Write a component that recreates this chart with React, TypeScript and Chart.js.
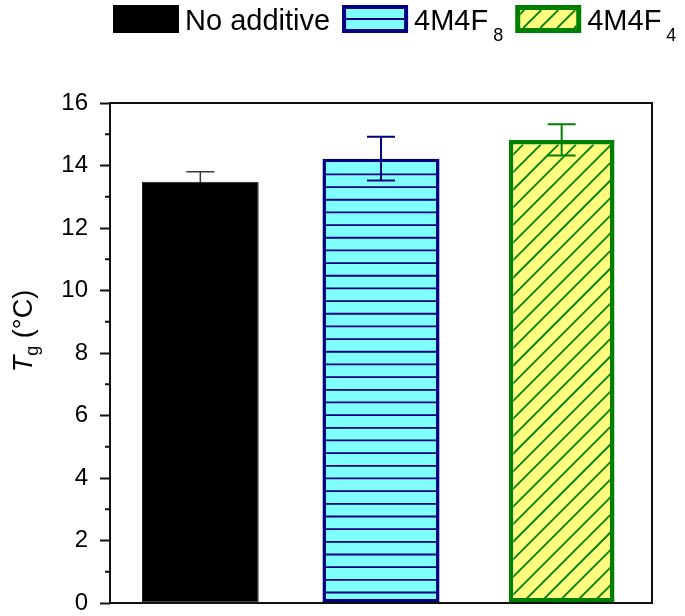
import React, { useEffect, useRef } from "react";
import { Chart, registerables } from "chart.js";

Chart.register(...registerables);

// ---- data ----
const categories = ["No additive", "4M4F8", "4M4F4"];
const legendMain = ["No additive", "4M4F", "4M4F"];
const legendSub = ["", "8", "4"];
const tgValues = [13.48, 14.22, 14.82];
const tgErrors = [0.32, 0.7, 0.5];
const yMin = 0;
const yMax = 16;
const yMajorStep = 2;
const yMinorTicks = [1, 3, 5, 7, 9, 11, 13, 15];

// ---- styles ----
const fillColors = ["#000000", "#80FFFF", "#FFFF80"];
const borderColors = ["#222222", "#000080", "#008000"];
const errorColors = ["#3a3a3a", "#000080", "#008000"];
const errorBehind = [true, false, false];
const borderWidths = [1, 3.5, 4.5];
const barPercents = [0.646, 0.648, 0.585];
const hatchTypes = ["none", "horizontal", "diagonal"];
const FONT = "'Liberation Sans', Arial, sans-serif";

function drawHatch(ctx: CanvasRenderingContext2D, type: string, left: number, top: number, right: number, bottom: number, color: string, hSpacing: number, dSpacing: number, offset: number) {
  ctx.strokeStyle = color;
  ctx.lineWidth = 1.8;
  if (type === "horizontal") {
    for (let yy = bottom - offset; yy > top; yy -= hSpacing) {
      ctx.beginPath();
      ctx.moveTo(left, yy);
      ctx.lineTo(right, yy);
      ctx.stroke();
    }
  } else if (type === "diagonal") {
    const h = bottom - top;
    for (let c = left - h + offset; c < right + 1; c += dSpacing) {
      ctx.beginPath();
      ctx.moveTo(c, bottom);
      ctx.lineTo(c + h, top);
      ctx.stroke();
    }
  }
}

function drawErrorBar(chart: any, i: number) {
  const ctx = chart.ctx as CanvasRenderingContext2D;
  const yScale = chart.scales.y;
  const el = chart.getDatasetMeta(i).data[i];
  if (!el) return;
  const px = el.getProps(["x"], true).x;
  const v = tgValues[i];
  const e = tgErrors[i];
  const yHi = yScale.getPixelForValue(v + e);
  const yLo = yScale.getPixelForValue(v - e);
  ctx.save();
  ctx.strokeStyle = errorColors[i];
  ctx.lineWidth = i === 0 ? 1.5 : 2;
  ctx.beginPath();
  ctx.moveTo(px, yHi);
  ctx.lineTo(px, yLo);
  ctx.moveTo(px - 14, yHi);
  ctx.lineTo(px + 14, yHi);
  ctx.moveTo(px - 14, yLo);
  ctx.lineTo(px + 14, yLo);
  ctx.stroke();
  ctx.restore();
}

const barsDecorPlugin = {
  id: "barsDecor",
  beforeDatasetsDraw(chart: any) {
    chart.data.datasets.forEach((_ds: any, i: number) => {
      if (errorBehind[i]) drawErrorBar(chart, i);
    });
  },
  afterDatasetsDraw(chart: any) {
    const ctx = chart.ctx as CanvasRenderingContext2D;
    const yScale = chart.scales.y;
    const area = chart.chartArea;
    chart.data.datasets.forEach((_ds: any, i: number) => {
      const meta = chart.getDatasetMeta(i);
      const el = meta.data[i];
      if (!el) return;
      const p = el.getProps(["x", "y", "base", "width"], true);
      const bw = borderWidths[i];
      const left = p.x - p.width / 2 + bw;
      const right = p.x + p.width / 2 - bw;
      const top = p.y + bw;
      const bottom = p.base;
      ctx.save();
      ctx.beginPath();
      ctx.rect(left, top, right - left, bottom - top);
      ctx.clip();
      drawHatch(ctx, hatchTypes[i], left, top, right, bottom, borderColors[i], 12.67, 17.6, 10);
      ctx.restore();
      if (!errorBehind[i]) drawErrorBar(chart, i);
    });

    // frame
    ctx.save();
    ctx.strokeStyle = "#111";
    ctx.lineWidth = 2;
    ctx.strokeRect(area.left, area.top, area.right - area.left, area.bottom - area.top);
    // minor ticks
    ctx.beginPath();
    yMinorTicks.forEach((v) => {
      const yy = yScale.getPixelForValue(v);
      ctx.moveTo(area.left - 5, yy);
      ctx.lineTo(area.left, yy);
    });
    ctx.stroke();
    ctx.restore();
  },
  afterDraw(chart: any) {
    const ctx = chart.ctx as CanvasRenderingContext2D;
    // ---- legend ----
    ctx.save();
    let x = 113;
    const boxY = 5;
    const boxW = 66;
    const boxH = 28;
    for (let i = 0; i < legendMain.length; i++) {
      const bw = i === 0 ? 0 : Math.round(borderWidths[i]);
      ctx.fillStyle = fillColors[i];
      ctx.fillRect(x, boxY, boxW, boxH);
      ctx.save();
      ctx.beginPath();
      ctx.rect(x + bw, boxY + bw, boxW - 2 * bw, boxH - 2 * bw);
      ctx.clip();
      if (hatchTypes[i] === "horizontal") {
        ctx.strokeStyle = borderColors[i];
        ctx.lineWidth = 1.8;
        ctx.beginPath();
        ctx.moveTo(x, boxY + boxH / 2);
        ctx.lineTo(x + boxW, boxY + boxH / 2);
        ctx.stroke();
      } else if (hatchTypes[i] === "diagonal") {
        drawHatch(ctx, "diagonal", x + bw, boxY + bw, x + boxW - bw, boxY + boxH - bw, borderColors[i], 12.67, 17, 4);
      }
      ctx.restore();
      if (i > 0) {
        ctx.strokeStyle = borderColors[i];
        ctx.lineWidth = bw;
        ctx.strokeRect(x + bw / 2, boxY + bw / 2, boxW - bw, boxH - bw);
      }
      let tx = x + boxW + 6;
      ctx.fillStyle = "#000";
      ctx.textBaseline = "alphabetic";
      ctx.textAlign = "left";
      ctx.font = `29px ${FONT}`;
      ctx.fillText(legendMain[i], tx, 30);
      tx += ctx.measureText(legendMain[i]).width;
      if (legendSub[i]) {
        tx += 5;
        ctx.font = `18px ${FONT}`;
        ctx.fillText(legendSub[i], tx, 41);
        tx += ctx.measureText(legendSub[i]).width;
      }
      x = tx + 12;
    }
    ctx.restore();

    // ---- y axis title ----
    ctx.save();
    const cy = 331;
    const bx = 32;
    const big = 27;
    const small = 18;
    ctx.font = `italic ${big}px ${FONT}`;
    const wT = ctx.measureText("T").width;
    ctx.font = `${small}px ${FONT}`;
    const wg = ctx.measureText("g").width;
    ctx.font = `${big}px ${FONT}`;
    const wRest = ctx.measureText(" (°C)").width;
    const total = wT + wg + wRest;
    ctx.translate(bx, cy);
    ctx.rotate(-Math.PI / 2);
    ctx.fillStyle = "#000";
    ctx.textBaseline = "alphabetic";
    ctx.textAlign = "left";
    let u = -total / 2;
    ctx.font = `italic ${big}px ${FONT}`;
    ctx.fillText("T", u, 0);
    u += wT;
    ctx.font = `${small}px ${FONT}`;
    ctx.fillText("g", u, 6);
    u += wg;
    ctx.font = `${big}px ${FONT}`;
    ctx.fillText(" (°C)", u, 0);
    ctx.restore();
  },
};

export default function App() {
  const canvasRef = useRef<HTMLCanvasElement | null>(null);

  useEffect(() => {
    if (!canvasRef.current) return;
    const datasets = categories.map((_c, i) => ({
      label: categories[i],
      data: categories.map((_x, j) => (j === i ? tgValues[i] : null)),
      backgroundColor: fillColors[i],
      borderColor: borderColors[i],
      borderWidth: borderWidths[i],
      borderSkipped: false,
      barPercentage: barPercents[i],
      categoryPercentage: 1,
      grouped: false,
    }));
    const chart = new Chart(canvasRef.current, {
      type: "bar",
      data: { labels: categories, datasets: datasets as any },
      options: {
        animation: false,
        responsive: false,
        maintainAspectRatio: false,
        layout: { padding: { top: 103, right: 33, bottom: 13, left: 0 } },
        plugins: { legend: { display: false }, tooltip: { enabled: false } },
        scales: {
          x: { display: false },
          y: {
            min: yMin,
            max: yMax,
            ticks: {
              stepSize: yMajorStep,
              color: "#000",
              font: { family: FONT, size: 24, lineHeight: 0.02 },
              padding: 12,
            },
            grid: {
              drawOnChartArea: false,
              drawTicks: true,
              tickLength: 10,
              tickWidth: 2,
              tickColor: "#111",
            },
            border: { display: false },
            afterFit: (scale: any) => {
              scale.width = 110;
            },
          },
        },
      },
      plugins: [barsDecorPlugin],
    });
    return () => chart.destroy();
  }, []);

  return (
    <div style={{ position: "absolute", left: 0, top: 0, width: 685, height: 616, background: "#fff" }}>
      <canvas ref={canvasRef} width={685} height={616} style={{ width: 685, height: 616 }} />
    </div>
  );
}
